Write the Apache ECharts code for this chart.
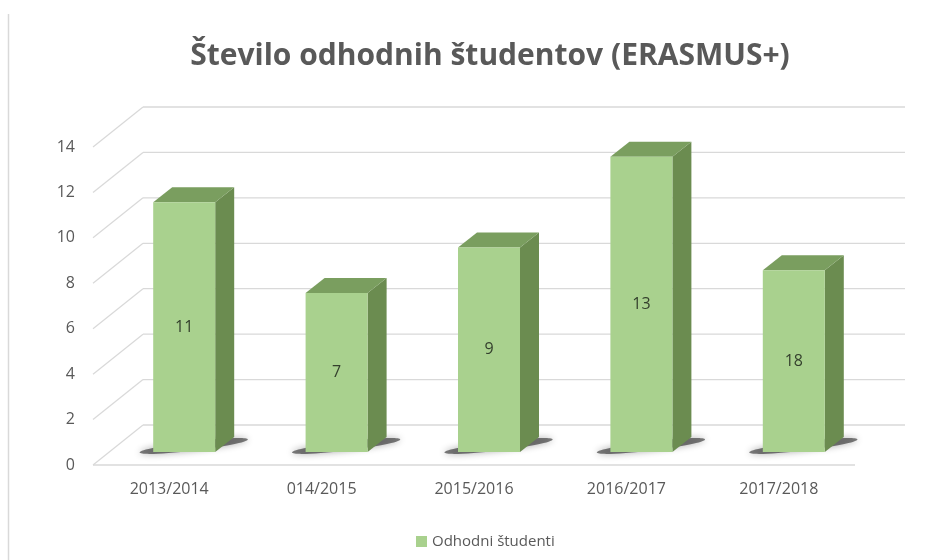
<!DOCTYPE html>
<html>
<head>
<meta charset="utf-8">
<script src="https://cdn.jsdelivr.net/npm/echarts@6/dist/echarts.min.js"></script>
<style>
html,body{margin:0;padding:0;background:#fff;}
#chart{width:950px;height:560px;}
</style>
</head>
<body>
<div id="chart"></div>
<script>
const categories = ['2013/2014', '014/2015', '2015/2016', '2016/2017', '2017/2018'];
const values = [11, 7, 9, 13, 8];
const barLabels = ['11', '7', '9', '13', '18'];
const yTicks = [0, 2, 4, 6, 8, 10, 12, 14];
const seriesName = 'Odhodni študenti';
const titleText = 'Število odhodnih študentov (ERASMUS+)';

const FONT = "'Open Sans', 'DejaVu Sans', sans-serif";
const WALL_DX = 50, WALL_DY = -40;   // depth of the 3D box
const BAR_DX = 15, BAR_DY = -13;     // bar position inside the depth
const SIDE_DX = 19, SIDE_DY = -15;   // bar depth
const BAR_W = 62;
const GRID_COLOR = '#d9d9d9';

const chart = echarts.init(document.getElementById('chart'), null, {renderer: 'canvas'});

function renderWall(params, api) {
  const cs = params.coordSys;
  const v = api.value(0);
  const p = api.coord([0, v]);
  const y = p[1];
  const x0 = cs.x, x1 = cs.x + cs.width;
  const lineStyle = {stroke: GRID_COLOR, lineWidth: 1.3, fill: null};
  const children = [
    {type: 'line', shape: {x1: x0, y1: y, x2: x0 + WALL_DX, y2: y + WALL_DY}, style: lineStyle},
    {type: 'line', shape: {x1: x0 + WALL_DX, y1: y + WALL_DY, x2: x1 + WALL_DX, y2: y + WALL_DY}, style: lineStyle}
  ];
  if (v === 0) {
    children.push({type: 'line', shape: {x1: x0, y1: y, x2: x1, y2: y}, style: lineStyle});
  }
  return {type: 'group', children: children};
}

function renderBar(params, api) {
  const i = api.value(0);
  const v = api.value(1);
  const base = api.coord([i, 0]);
  const top = api.coord([i, v]);
  const cx = base[0] + BAR_DX;
  const xl = cx - BAR_W / 2, xr = cx + BAR_W / 2;
  const yb = base[1] + BAR_DY, yt = top[1] + BAR_DY;
  const label = barLabels[params.dataIndex];
  const scx = (xl + xr + SIDE_DX) / 2, scy = yb - 6;
  return {
    type: 'group',
    children: [
      {type: 'ellipse', x: scx, y: scy, rotation: 0.12,
        shape: {cx: 0, cy: 0, rx: (BAR_W + SIDE_DX) / 2 + 14, ry: 4.5},
        style: {fill: 'rgba(40,40,40,0.6)', shadowBlur: 7, shadowColor: 'rgba(0,0,0,0.55)'}},
      {type: 'polygon', shape: {points: [[xr, yt], [xr + SIDE_DX, yt + SIDE_DY], [xr + SIDE_DX, yb + SIDE_DY], [xr, yb]]},
        style: {fill: '#6b8c50'}},
      {type: 'polygon', shape: {points: [[xl, yt], [xr, yt], [xr + SIDE_DX, yt + SIDE_DY], [xl + SIDE_DX, yt + SIDE_DY]]},
        style: {fill: '#7a9e5f'}},
      {type: 'rect', shape: {x: xl, y: yt, width: BAR_W, height: yb - yt},
        style: {fill: '#a9d18e'}},
      {type: 'text', style: {text: label, x: cx, y: (yt + yb) / 2, align: 'center', verticalAlign: 'middle',
        fill: '#34402d', font: '16px ' + FONT}}
    ]
  };
}

chart.setOption({
  backgroundColor: '#ffffff',
  animation: false,
  title: {
    text: titleText,
    left: 485, top: 36, textAlign: 'center',
    textStyle: {fontFamily: FONT, fontSize: 30, fontWeight: 'bold', color: '#595959'}
  },
  legend: {
    data: [seriesName],
    left: 411, top: 529,
    icon: 'rect', itemWidth: 11, itemHeight: 11, itemGap: 4,
    textStyle: {fontFamily: FONT, fontSize: 15, color: '#595959'}
  },
  graphic: [
    {type: 'line', shape: {x1: 8.5, y1: 14, x2: 8.5, y2: 560}, style: {stroke: '#d9d9d9', lineWidth: 1.5}}
  ],
  grid: {left: 93, right: 95, top: 147, bottom: 95, containLabel: false},
  xAxis: {
    type: 'category', data: categories,
    axisLine: {show: false}, axisTick: {show: false}, splitLine: {show: false},
    axisLabel: {margin: 16, fontFamily: FONT, fontSize: 16, color: '#595959'}
  },
  yAxis: {
    type: 'value', min: 0, max: 14, interval: 2,
    axisLine: {show: false}, axisTick: {show: false}, splitLine: {show: false},
    axisLabel: {margin: 18, fontFamily: FONT, fontSize: 16, color: '#595959'}
  },
  series: [
    {
      type: 'custom', name: '_walls', silent: true, clip: false, z: 1,
      renderItem: renderWall,
      encode: {y: 0},
      data: yTicks.map(t => [t])
    },
    {
      type: 'custom', name: seriesName, clip: false, z: 2,
      itemStyle: {color: '#a9d18e'},
      renderItem: renderBar,
      encode: {x: 0, y: 1},
      data: values.map((v, i) => [i, v])
    }
  ]
});
</script>
</body>
</html>
